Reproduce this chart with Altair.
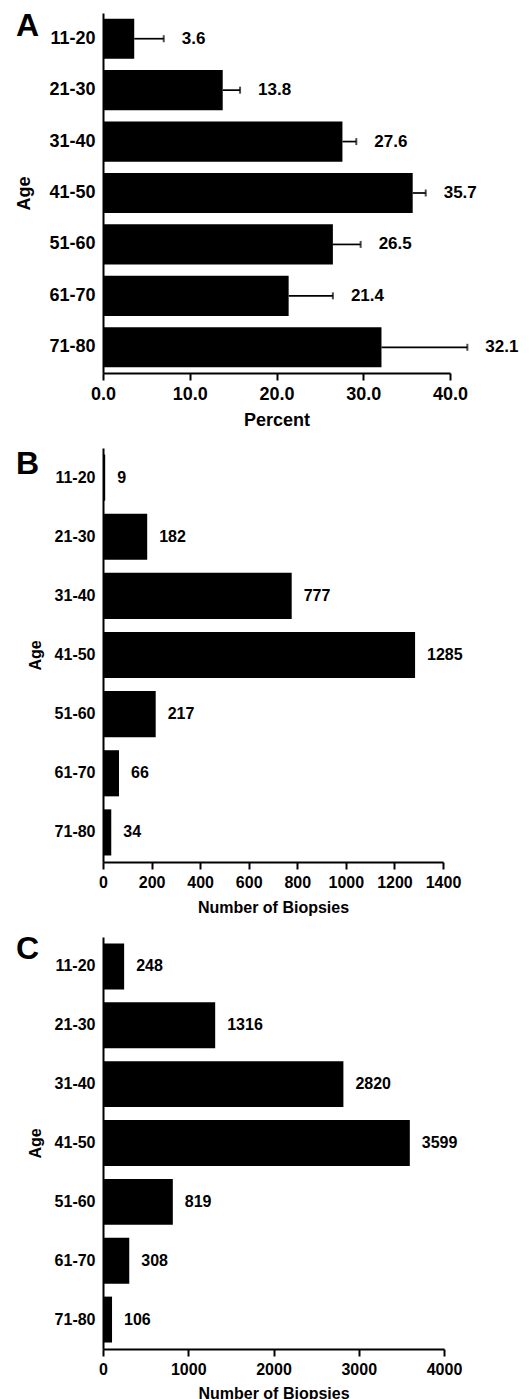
import altair as alt
import pandas as pd

ages = ["11-20", "21-30", "31-40", "41-50", "51-60", "61-70", "71-80"]
percent = [3.6, 13.8, 27.6, 35.7, 26.5, 21.4, 32.1]
percent_err = [3.4, 2.0, 1.6, 1.5, 3.2, 5.1, 9.9]
biopsies_b = [9, 182, 777, 1285, 217, 66, 34]
biopsies_c = [248, 1316, 2820, 3599, 819, 308, 106]
ticks_a = [0, 10, 20, 30, 40]
ticks_b = [0, 200, 400, 600, 800, 1000, 1200, 1400]
ticks_c = [0, 1000, 2000, 3000, 4000]

FONT = "Liberation Sans"

dfA = pd.DataFrame({"age": ages, "value": percent, "err": percent_err})
dfA["hi"] = dfA["value"] + dfA["err"]
dfB = pd.DataFrame({"age": ages, "value": biopsies_b})
dfC = pd.DataFrame({"age": ages, "value": biopsies_c})


def y_enc(fs, title_pad):
    return alt.Y(
        "age:N", sort=ages,
        scale=alt.Scale(paddingInner=0.22, paddingOuter=0.11),
        axis=alt.Axis(
            title="Age", ticks=False, labelPadding=8, domainWidth=2,
            domainColor="black", labelColor="black", labelFont=FONT,
            labelFontSize=fs, labelFontWeight="bold", titleFont=FONT,
            titleFontSize=fs, titleFontWeight="bold", titleColor="black",
            titlePadding=title_pad, grid=False,
        ),
    )


def x_axis(title, values, fmt, fs, title_pad):
    return alt.Axis(
        title=title, values=values, format=fmt, grid=False, domainWidth=2,
        domainColor="black", tickColor="black", tickWidth=2, tickSize=7,
        labelColor="black", labelFont=FONT, labelFontSize=fs,
        labelFontWeight="bold", labelPadding=5, labelFlush=False,
        labelOverlap=False, titleFont=FONT, titleFontSize=fs,
        titleFontWeight="bold", titleColor="black", titlePadding=title_pad,
    )


def letter(ch, ypos):
    return alt.Chart(pd.DataFrame({"t": [ch]})).mark_text(
        font=FONT, fontSize=32, fontWeight="bold", align="left",
        baseline="top", color="black",
    ).encode(text="t:N", x=alt.value(-87), y=alt.value(ypos))


# Panel A
xA = alt.X("value:Q", scale=alt.Scale(domain=[0, 40], nice=False),
           axis=x_axis("Percent", ticks_a, ".1f", 18, 8))
baseA = alt.Chart(dfA)
barsA = baseA.mark_bar(color="black").encode(x=xA, y=y_enc(18, 15))
errA = baseA.mark_rule(color="black", strokeWidth=1.7).encode(
    x="value:Q", x2="hi:Q", y=alt.Y("age:N", sort=ages))
capA = baseA.mark_tick(color="black", thickness=2, size=7).encode(
    x="hi:Q", y=alt.Y("age:N", sort=ages))
labA = baseA.mark_text(align="left", baseline="middle", dx=18, font=FONT,
                       fontSize=17, fontWeight="bold", color="black").encode(
    x="hi:Q", y=alt.Y("age:N", sort=ages), text=alt.Text("value:Q", format=".1f"))
chartA = alt.layer(barsA, errA, capA, labA, letter("A", -2)).properties(
    width=347, height=360)

# Panel B
xB = alt.X("value:Q", scale=alt.Scale(domain=[0, 1400], nice=False),
           axis=x_axis("Number of Biopsies", ticks_b, "d", 16, 9))
baseB = alt.Chart(dfB)
barsB = baseB.mark_bar(color="black").encode(x=xB, y=y_enc(16, 11))
labB = baseB.mark_text(align="left", baseline="middle", dx=12, font=FONT,
                       fontSize=16, fontWeight="bold", color="black").encode(
    x="value:Q", y=alt.Y("age:N", sort=ages), text=alt.Text("value:Q", format="d"))
chartB = alt.layer(barsB, labB, letter("B", 1)).properties(width=340, height=414)

# Panel C
xC = alt.X("value:Q", scale=alt.Scale(domain=[0, 4000], nice=False),
           axis=x_axis("Number of Biopsies", ticks_c, "d", 16, 8))
baseC = alt.Chart(dfC)
barsC = baseC.mark_bar(color="black").encode(x=xC, y=y_enc(16, 11))
labC = baseC.mark_text(align="left", baseline="middle", dx=12, font=FONT,
                       fontSize=16, fontWeight="bold", color="black").encode(
    x="value:Q", y=alt.Y("age:N", sort=ages), text=alt.Text("value:Q", format="d"))
chartC = alt.layer(barsC, labC, letter("C", -3)).properties(width=341, height=412)

chart = alt.vconcat(chartA, chartB, chartC, spacing=75, bounds="flush").properties(
    padding={"left": 7, "top": 2, "right": 0, "bottom": 0}
).configure_view(strokeWidth=0)

chart.save("out.html", embed_options={"renderer": "svg", "actions": False})
